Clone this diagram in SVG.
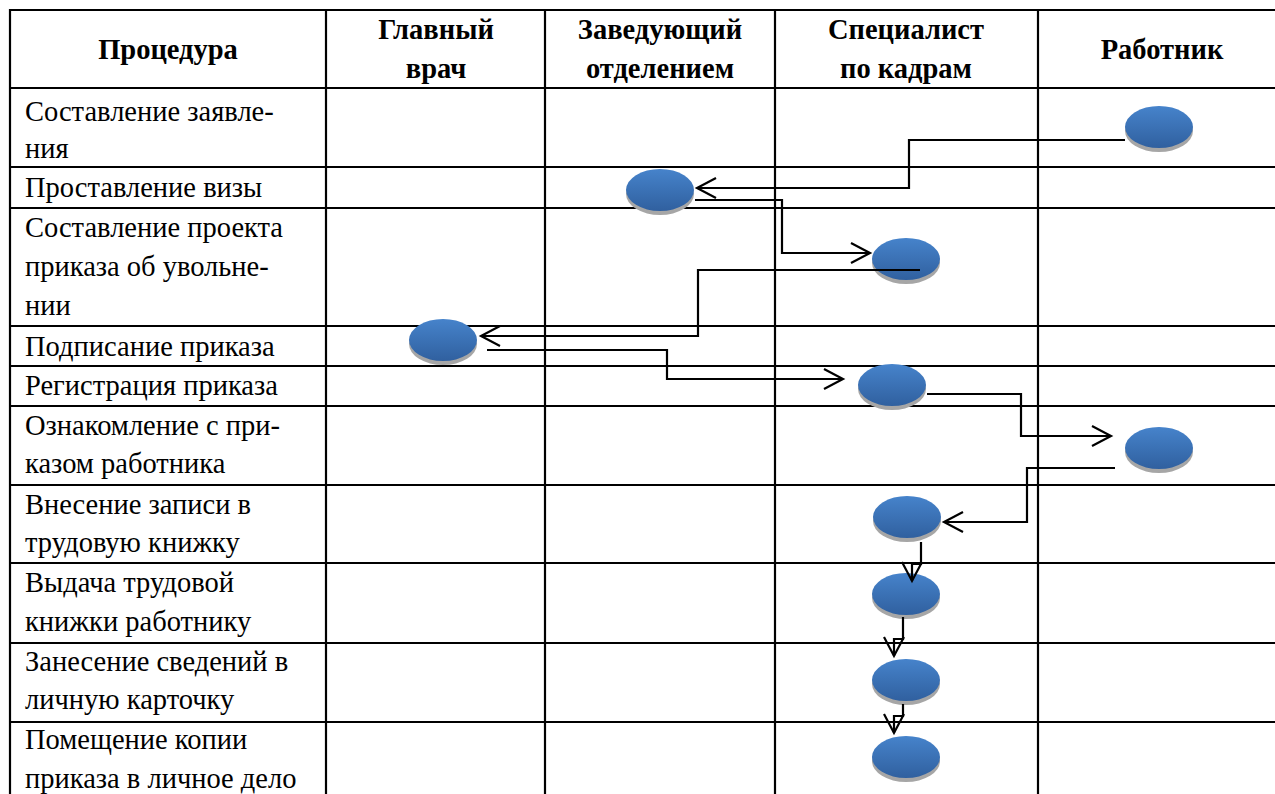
<svg xmlns="http://www.w3.org/2000/svg" width="1275" height="794" viewBox="0 0 1275 794">
<defs>
<linearGradient id="blue" x1="0" y1="0" x2="0" y2="1">
<stop offset="0" stop-color="#4683cb"/>
<stop offset="1" stop-color="#30609f"/>
</linearGradient>
<marker id="arr" markerUnits="userSpaceOnUse" markerWidth="26" markerHeight="26" viewBox="-2 -2 26 26" refX="19" refY="10" orient="auto">
<path d="M0,0 L19,10 L0,20" fill="none" stroke="#000" stroke-width="2.2"/>
</marker>
</defs>
<style>
.grid line{stroke:#000;stroke-width:2.2}
.h{font-family:'Liberation Serif','Liberation Sans',serif;font-weight:bold;font-size:28.5px;text-anchor:middle;fill:#000}
.t{font-family:'Liberation Serif','Liberation Sans',serif;font-size:28.5px;fill:#000}
.sh{fill:#a6a6a6}
.el{fill:url(#blue)}
.conn path{fill:none;stroke:#000;stroke-width:2.2}
</style>
<rect width="1275" height="794" fill="#fff"/>
<g class="grid">
<line x1="9" y1="10" x2="1290" y2="10"/>
<line x1="9" y1="88" x2="1290" y2="88"/>
<line x1="9" y1="167" x2="1290" y2="167"/>
<line x1="9" y1="208" x2="1290" y2="208"/>
<line x1="9" y1="326" x2="1290" y2="326"/>
<line x1="9" y1="366" x2="1290" y2="366"/>
<line x1="9" y1="406" x2="1290" y2="406"/>
<line x1="9" y1="485" x2="1290" y2="485"/>
<line x1="9" y1="563" x2="1290" y2="563"/>
<line x1="9" y1="643" x2="1290" y2="643"/>
<line x1="9" y1="722" x2="1290" y2="722"/>
<line x1="10" y1="9" x2="10" y2="800"/>
<line x1="326" y1="9" x2="326" y2="800"/>
<line x1="545" y1="9" x2="545" y2="800"/>
<line x1="775" y1="9" x2="775" y2="800"/>
<line x1="1038" y1="9" x2="1038" y2="800"/>
</g>
<g id="header">
<text class="h" x="168" y="59">Процедура</text>
<text class="h" x="436" y="39">Главный</text>
<text class="h" x="436" y="78">врач</text>
<text class="h" x="660" y="39">Заведующий</text>
<text class="h" x="660" y="78">отделением</text>
<text class="h" x="906" y="39">Специалист</text>
<text class="h" x="906" y="78">по кадрам</text>
<text class="h" x="1162" y="59">Работник</text>
</g>
<g id="procedures">
<text class="t" x="25" y="121">Составление заявле-</text>
<text class="t" x="25" y="158">ния</text>
<text class="t" x="25" y="197">Проставление визы</text>
<text class="t" x="25" y="237">Составление проекта</text>
<text class="t" x="25" y="276">приказа об увольне-</text>
<text class="t" x="25" y="315">нии</text>
<text class="t" x="25" y="356">Подписание приказа</text>
<text class="t" x="25" y="395">Регистрация приказа</text>
<text class="t" x="25" y="435">Ознакомление с при-</text>
<text class="t" x="25" y="473">казом работника</text>
<text class="t" x="25" y="514">Внесение записи в</text>
<text class="t" x="25" y="552">трудовую книжку</text>
<text class="t" x="25" y="592">Выдача трудовой</text>
<text class="t" x="25" y="631">книжки работнику</text>
<text class="t" x="25" y="671">Занесение сведений в</text>
<text class="t" x="25" y="709">личную карточку</text>
<text class="t" x="25" y="749">Помещение копии</text>
<text class="t" x="25" y="788">приказа в личное дело</text>
</g>
<g id="n1"><ellipse class="sh" cx="1159" cy="131" rx="34" ry="21"/><ellipse class="el" cx="1159" cy="127" rx="34" ry="21"/></g>
<g id="n2"><ellipse class="sh" cx="660" cy="194" rx="34" ry="21"/><ellipse class="el" cx="660" cy="190" rx="34" ry="21"/></g>
<g id="n3"><ellipse class="sh" cx="906" cy="263" rx="34" ry="21"/><ellipse class="el" cx="906" cy="259" rx="34" ry="21"/></g>
<g id="n4"><ellipse class="sh" cx="443" cy="344" rx="34" ry="21"/><ellipse class="el" cx="443" cy="340" rx="34" ry="21"/></g>
<g id="n5"><ellipse class="sh" cx="892" cy="389" rx="34" ry="21"/><ellipse class="el" cx="892" cy="385" rx="34" ry="21"/></g>
<g id="n6"><ellipse class="sh" cx="1159" cy="452" rx="34" ry="21"/><ellipse class="el" cx="1159" cy="448" rx="34" ry="21"/></g>
<g id="n7"><ellipse class="sh" cx="907" cy="521" rx="34" ry="21"/><ellipse class="el" cx="907" cy="517" rx="34" ry="21"/></g>
<g id="n8"><ellipse class="sh" cx="906" cy="598" rx="34" ry="21"/><ellipse class="el" cx="906" cy="594" rx="34" ry="21"/></g>
<g id="n9"><ellipse class="sh" cx="906" cy="684" rx="34" ry="21"/><ellipse class="el" cx="906" cy="680" rx="34" ry="21"/></g>
<g id="n10"><ellipse class="sh" cx="906" cy="761" rx="34" ry="21"/><ellipse class="el" cx="906" cy="757" rx="34" ry="21"/></g>
<g id="connectors" class="conn">
<path d="M1125,140 H909 V188 H697" marker-end="url(#arr)"/>
<path d="M695,200 H782 V253 H870" marker-end="url(#arr)"/>
<path d="M920,270 H698 V336 H481" marker-end="url(#arr)"/>
<path d="M487,350 H667 V379 H843" marker-end="url(#arr)"/>
<path d="M927,394 H1021 V436 H1111" marker-end="url(#arr)"/>
<path d="M1115,468 H1027 V522 H944" marker-end="url(#arr)"/>
<path d="M921,542 V564 H912 V581" marker-end="url(#arr)"/>
<path d="M903,617 V639 H894 V656" marker-end="url(#arr)"/>
<path d="M903,704 V716 H894 V733" marker-end="url(#arr)"/>
</g>
</svg>
